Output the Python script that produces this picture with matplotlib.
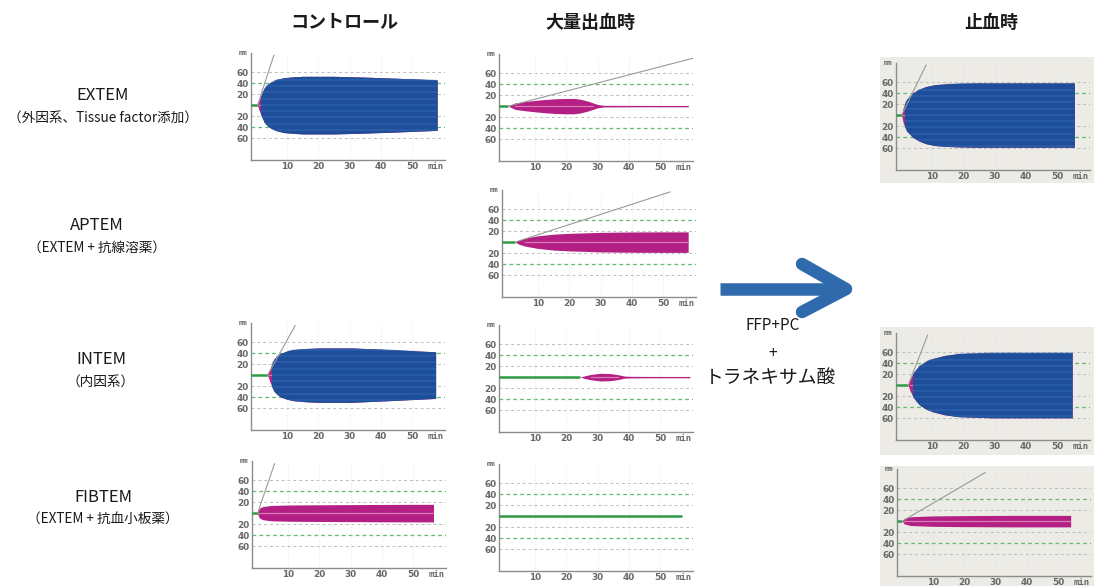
import numpy as np
import matplotlib
matplotlib.use("Agg")
import matplotlib.pyplot as plt
from matplotlib.patches import Rectangle

plt.rcParams["font.family"] = ["Noto Sans CJK JP", "DejaVu Sans"]

W, H = 1094, 586

# ---- ROTEM traces: time (min) / amplitude (mm), CT (min), alpha-line end point ----
ctrl_extem_ct = 0.6
ctrl_extem_t = [0.6, 1.0, 1.7, 2.7, 3.7, 4.8, 6.5, 9, 12, 15, 25, 35, 45, 58]
ctrl_extem_a = [0, 8, 18, 31, 37.5, 42, 46.5, 50, 51.5, 52.5, 52.5, 51, 49, 46]
ctrl_extem_alpha = [5.8, 91]

ctrl_intem_ct = 3.8
ctrl_intem_t = [3.8, 4.3, 4.8, 5.8, 6.8, 7.9, 10, 12, 16, 20, 31, 41, 52, 57.5]
ctrl_intem_a = [0, 8, 16, 29, 35, 39.5, 44, 46.5, 48.5, 49.5, 49.5, 47, 44, 42.5]
ctrl_intem_alpha = [12.6, 90]

ctrl_fibtem_ct = 0.3
ctrl_fibtem_t = [0.3, 0.6, 1.0, 2, 4.6, 10, 20, 30, 40, 50, 56.5]
ctrl_fibtem_a = [0, 6, 9.5, 12, 14, 14.8, 15.2, 15.5, 15.8, 16, 16]
ctrl_fibtem_alpha = [5.7, 90]

bleed_extem_ct = 1.5
bleed_extem_t = [1.5, 3.7, 7, 10.2, 13.5, 16.8, 20, 22.5, 24.5, 26.6, 28.5, 30, 32, 40, 50, 59]
bleed_extem_a = [0, 6, 8.5, 10.5, 12.2, 13.5, 14, 14, 12.5, 9.5, 6, 3, 1.5, 1.3, 1.2, 1.2]
bleed_extem_alpha = [61, 88]

bleed_aptem_ct = 2.7
bleed_aptem_t = [2.7, 4, 6, 10, 15, 20, 30, 40, 50, 58]
bleed_aptem_a = [0, 4, 7.5, 11.5, 14.5, 16, 17.8, 18.5, 18.7, 18.7]
bleed_aptem_alpha = [52.2, 91.5]

bleed_intem_ct = 24.4
bleed_intem_t = [24.4, 26, 28, 31, 34, 36.5, 38.5, 40, 45, 50, 59.5]
bleed_intem_a = [0, 2.5, 5, 7, 6.5, 4.5, 2, 1.5, 1.3, 1.2, 1.2]

bleed_fibtem_ct = 57  # flat line, no clot

hemo_extem_ct = 0.3
hemo_extem_t = [0.3, 0.8, 1.9, 4, 6, 8, 11, 14.4, 19, 24, 35, 45, 55.5]
hemo_extem_a = [0, 14, 29, 41, 47.5, 52, 55.5, 57, 58, 58.5, 58.5, 58.5, 58.5]
hemo_extem_alpha = [8.1, 91]

hemo_intem_ct = 2.4
hemo_intem_t = [2.4, 2.9, 3.9, 5, 6, 8, 10.2, 14, 18.5, 29, 40, 54.8]
hemo_intem_a = [0, 9, 21, 29.5, 36, 43.5, 48.5, 54, 57.5, 59.5, 59.5, 59.5]
hemo_intem_alpha = [8.6, 91]

hemo_fibtem_ct = 0.2
hemo_fibtem_t = [0.2, 0.8, 2.9, 10, 18.5, 35, 54]
hemo_fibtem_a = [0, 5, 8, 9.5, 10, 10.5, 10.5]
hemo_fibtem_alpha = [26.7, 88.5]

col_titles = ["コントロール", "大量出血時", "止血時"]
row_titles = ["EXTEM", "APTEM", "INTEM", "FIBTEM"]
row_notes = ["（外因系、Tissue factor添加）", "（EXTEM + 抗線溶薬）", "（内因系）", "（EXTEM + 抗血小板薬）"]
treatment = ["FFP+PC", "+", "トラネキサム酸"]

y_ticks = [60, 40, 20, -20, -40, -60]
y_labels = ["60", "40", "20", "20", "40", "60"]
x_ticks = [10, 20, 30, 40, 50, 57.5]
x_labels = ["10", "20", "30", "40", "50", "min"]

BLUE = "#1e4d9a"
BLUE_LT = "#2f67b0"
PINK = "#b31f82"
PINK_LT = "#e394c6"
GREEN = "#2e9a45"
GREEN_DASH = "#5fbb74"
GRID = "#bcbcbc"
LABEL = "#686868"

fig = plt.figure(figsize=(W / 100, H / 100), dpi=100)


def px_axes(left, xaxis_y, width=194, height=107):
    return fig.add_axes([left / W, 1 - xaxis_y / H, width / W, height / H])


def draw_panel(ax, ct, t=None, a=None, alpha_end=None):
    ax.set_facecolor("none")
    ax.set_xlim(-1.5, 60.5)
    ax.set_ylim(-100, 95)
    for y in (60, 20, -20, -60):
        ax.axhline(y, color=GRID, lw=0.7, ls=(0, (3, 3)), zorder=0)
    for y in (40, -40):
        ax.axhline(y, color=GREEN_DASH, lw=0.9, ls=(0, (3, 2.5)), zorder=0)
    for x in range(10, 60, 10):
        ax.axvline(x, color="#dcdcdc", lw=0.6, ls=(0, (1, 2.5)), zorder=0)

    ax.plot([-1.5, ct], [0, 0], color=GREEN, lw=1.8, zorder=3, solid_capstyle="butt")

    if t is not None:
        t = np.asarray(t, dtype=float)
        a = np.asarray(a, dtype=float)
        pink = ax.fill_between(t, a, -a, color=PINK, lw=0, zorder=2)
        centre = np.where(a > 4, 0.0, np.nan)
        ln, = ax.plot(t, centre, color=PINK_LT, lw=0.9, alpha=0.8, zorder=2.05)
        ln.set_clip_path(pink.get_paths()[0], ax.transData)

        if a.max() >= 20:
            k = int(np.argmax(a))
            t20 = np.interp(20, a[:k + 1], t[:k + 1])
            blue = ax.fill_between(t, a, -a, color=BLUE, lw=0, zorder=2.1)
            blue.set_clip_path(Rectangle((t20, -100), 100, 200, transform=ax.transData))
            # scanned trace shows lighter horizontal bands
            stripes = ax.hlines(np.arange(-57, 60, 11.5), t20, t[-1],
                                color=BLUE_LT, lw=1.5, alpha=0.55, zorder=2.2)
            stripes.set_clip_path(blue.get_paths()[0], ax.transData)

    if alpha_end is not None:
        ax.plot([ct, alpha_end[0]], [0, alpha_end[1]], color="#999999", lw=0.8, zorder=4)

    for s in ("top", "right"):
        ax.spines[s].set_visible(False)
    for s in ("left", "bottom"):
        ax.spines[s].set_color("#8c8c8c")
        ax.spines[s].set_linewidth(1.0)

    ax.set_yticks(y_ticks, labels=y_labels)
    ax.set_xticks(x_ticks, labels=x_labels)
    ax.tick_params(length=0, pad=1.5, labelsize=6.4, labelcolor=LABEL)
    for lbl in ax.get_xticklabels() + ax.get_yticklabels():
        lbl.set_fontweight("bold")
        lbl.set_family("DejaVu Sans")
    ax.get_xticklabels()[-1].set_family("DejaVu Sans Mono")
    ax.annotate("mm", xy=(0, 1), xycoords="axes fraction", xytext=(-3, 0),
                textcoords="offset points", ha="right", va="center",
                fontsize=5, family="DejaVu Sans Mono", weight="bold", color=LABEL)


# scanned paper behind the post-treatment traces
for top, bottom in ((57, 183), (327, 455), (466, 586)):
    fig.add_artist(Rectangle((880 / W, 1 - bottom / H), (1094 - 880) / W, (bottom - top) / H,
                             transform=fig.transFigure, color="#ecebe5", lw=0, zorder=-1))

# control column
draw_panel(px_axes(251, 160), ctrl_extem_ct, ctrl_extem_t, ctrl_extem_a, ctrl_extem_alpha)
draw_panel(px_axes(251, 430), ctrl_intem_ct, ctrl_intem_t, ctrl_intem_a, ctrl_intem_alpha)
draw_panel(px_axes(252, 568), ctrl_fibtem_ct, ctrl_fibtem_t, ctrl_fibtem_a, ctrl_fibtem_alpha)

# massive bleeding column
draw_panel(px_axes(499, 161), bleed_extem_ct, bleed_extem_t, bleed_extem_a, bleed_extem_alpha)
draw_panel(px_axes(502, 297), bleed_aptem_ct, bleed_aptem_t, bleed_aptem_a, bleed_aptem_alpha)
draw_panel(px_axes(499, 432), bleed_intem_ct, bleed_intem_t, bleed_intem_a)
draw_panel(px_axes(499, 571), bleed_fibtem_ct)

# after haemostasis column
draw_panel(px_axes(896, 170), hemo_extem_ct, hemo_extem_t, hemo_extem_a, hemo_extem_alpha)
draw_panel(px_axes(896, 440), hemo_intem_ct, hemo_intem_t, hemo_intem_a, hemo_intem_alpha)
draw_panel(px_axes(897, 576), hemo_fibtem_ct, hemo_fibtem_t, hemo_fibtem_a, hemo_fibtem_alpha)

# overlay in pixel units for titles, row labels and the arrow
ov = fig.add_axes([0, 0, 1, 1])
ov.set_xlim(0, W)
ov.set_ylim(H, 0)
ov.axis("off")
ov.set_facecolor("none")

for x, s in zip((344, 590, 991), col_titles):
    ov.text(x, 22, s, ha="center", va="center", fontsize=13, weight="bold", color="#1a1a1a")

for x, y, name, note in zip((103, 97, 101, 103), (96, 226, 360, 497), row_titles, row_notes):
    ov.text(x, y, name, ha="center", va="center", fontsize=12, color="#1a1a1a")
    ov.text(x, y + 22, note, ha="center", va="center", fontsize=9.8, color="#1a1a1a")

ov.plot([720, 842], [289, 289], color="#2f6aac", lw=9, solid_capstyle="butt")
ov.plot([802, 846, 802], [264, 289, 312], color="#2f6aac", lw=9,
        solid_capstyle="round", solid_joinstyle="round")

ov.text(773, 325, treatment[0], ha="center", va="center", fontsize=11, color="#1a1a1a")
ov.text(773, 353, treatment[1], ha="center", va="center", fontsize=11, color="#1a1a1a")
ov.text(770, 377, treatment[2], ha="center", va="center", fontsize=13.5, color="#1a1a1a")

fig.savefig("out.png", dpi=100)
